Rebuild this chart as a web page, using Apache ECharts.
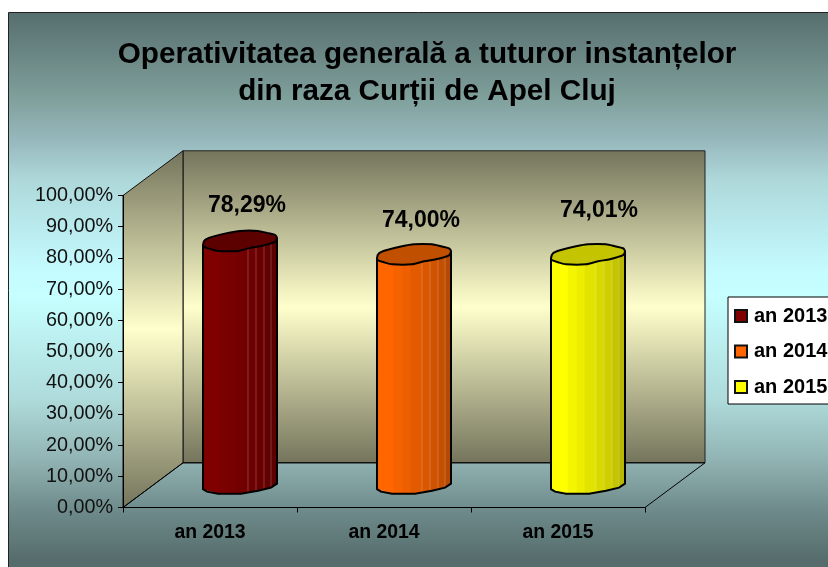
<!DOCTYPE html>
<html><head><meta charset="utf-8">
<script src="https://cdn.jsdelivr.net/npm/echarts@6/dist/echarts.min.js"></script>
<style>html,body{margin:0;padding:0;background:#fff;overflow:hidden}#c{width:828px;height:567px}</style>
</head><body><div id="c"></div>
<script>
const categories = ['an 2013', 'an 2014', 'an 2015'];
const values = [78.29, 74.00, 74.01];
const valueLabels = ['78,29%', '74,00%', '74,01%'];
const barColors = ['#800000', '#ff6600', '#ffff00'];
const capColors = ['#5c0000', '#c05000', '#c4c400'];
const titleText = 'Operativitatea generală a tuturor instanțelor\ndin raza Curții de Apel Cluj';

// 3D look (pixels), not data
const DEPTH_X = 60, DEPTH_Y = -44.7;
const labelNudge = [[7, -35], [7, -34], [11, -44]];
const capShape = [[-37,4],[-35,-1],[-28,-4],[-12,-8],[0,-10],[18,-10],[27,-8],[35,-6],[37,-3],[35,1],[22,5],[10,7],[-2,10],[-22,10],[-30,8],[-36,6]];
const bottomShape = [[-37,4],[-33,6.5],[-22,8.5],[1,8.5],[18,5.5],[31,2.5],[37,-1.5]];
const facets = [[-37,-20,1],[-20,-11,.96],[-11,-3,.93],[-3,8,.89],[8,16,.85],[16,24,.81],[24,31,.77],[31,37,.72]];

function shade(hex, k) {
  const n = parseInt(hex.slice(1), 16);
  return 'rgb(' + [n >> 16, (n >> 8) & 255, n & 255].map(v => Math.round(v * k)).join(',') + ')';
}
function bottomAt(x) {
  for (let i = 1; i < bottomShape.length; i++) {
    const a = bottomShape[i - 1], b = bottomShape[i];
    if (x <= b[0]) return a[1] + (b[1] - a[1]) * (x - a[0]) / (b[0] - a[0]);
  }
  return bottomShape[bottomShape.length - 1][1];
}
const wallFill = (a, b) => ({type: 'linear', x: 0, y: 0, x2: 0, y2: 1, colorStops: [
  {offset: 0, color: a}, {offset: .5, color: b}, {offset: 1, color: a}]});
const pageStops = [[12,'#566e6e'],[95,'#7e9e9a'],[140,'#97b8bc'],[180,'#aed8da'],[270,'#c4fbff'],[295,'#c6ffff'],[400,'#aedada'],[463,'#8fb0b0'],[510,'#6e8a8a'],[560,'#566c6c'],[612,'#566c6c']];

function renderWalls(params) {
  const c = params.coordSys, L = c.x, R = c.x + c.width, T = c.y, B = c.y + c.height;
  const ln = {stroke: '#000', lineWidth: 1};
  return {type: 'group', children: [
    {type: 'polygon', shape: {points: [[L + DEPTH_X, T + DEPTH_Y], [R + DEPTH_X, T + DEPTH_Y], [R + DEPTH_X, B + DEPTH_Y], [L + DEPTH_X, B + DEPTH_Y]]},
      style: {fill: wallFill('#74745c', '#ffffcc'), stroke: '#222', lineWidth: 1}},
    {type: 'polygon', shape: {points: [[L, T], [L + DEPTH_X, T + DEPTH_Y], [L + DEPTH_X, B + DEPTH_Y], [L, B]]},
      style: {fill: wallFill('#74745c', '#ffffcc'), stroke: '#111', lineWidth: 1}},
    {type: 'polyline', shape: {points: [[L, B], [L + DEPTH_X, B + DEPTH_Y], [R + DEPTH_X, B + DEPTH_Y], [R, B]]}, style: {fill: 'none', ...ln}}
  ]};
}
function renderBar(params, api) {
  const i = api.value(0), v = api.value(1);
  const top = api.coord([i, v]), base = api.coord([i, 0]);
  const cx = top[0] + DEPTH_X / 2, ty = top[1] + DEPTH_Y / 2, by = base[1] + DEPTH_Y / 2;
  const col = barColors[i], kids = [];
  facets.forEach(f => {
    kids.push({type: 'polygon', shape: {points: [[cx + f[0], ty], [cx + f[1], ty], [cx + f[1], by + bottomAt(f[1])], [cx + f[0], by + bottomAt(f[0])]]},
      style: {fill: shade(col, f[2]), stroke: shade(col, f[2]), lineWidth: .5}});
  });
  facets.slice(4).forEach(f => {
    kids.push({type: 'line', shape: {x1: cx + f[0], y1: ty, x2: cx + f[0], y2: by + bottomAt(f[0])},
      style: {stroke: 'rgba(255,255,255,.22)', lineWidth: 1}});
  });
  kids.push({type: 'polyline', shape: {points: [[cx - 37, ty + 4]].concat(bottomShape.map(p => [cx + p[0], by + p[1]]), [[cx + 37, ty - 3]])},
    style: {fill: 'none', stroke: '#000', lineWidth: 2}});
  kids.push({type: 'polygon', shape: {points: capShape.map(p => [cx + p[0], ty + p[1]]), smooth: .25},
    style: {fill: capColors[i], stroke: '#000', lineWidth: 2}});
  kids.push({type: 'text', style: {text: valueLabels[i], x: cx + labelNudge[i][0], y: ty + labelNudge[i][1],
    align: 'center', verticalAlign: 'middle', fill: '#000', font: 'bold 23px "Liberation Sans"'}});
  return {type: 'group', children: kids};
}

const chart = echarts.init(document.getElementById('c'), null, {renderer: 'canvas'});
chart.setOption({
  animation: false,
  textStyle: {fontFamily: '"Liberation Sans"'},
  graphic: [{type: 'rect', z: -1, shape: {x: 8.5, y: 12.5, width: 900, height: 600},
    style: {fill: {type: 'linear', x: 0, y: 0, x2: 0, y2: 1, colorStops: pageStops.map(s => ({offset: (s[0] - 12) / 600, color: s[1]}))},
      stroke: '#222', lineWidth: 1}}],
  title: {text: titleText, left: 422, top: 31, textAlign: 'center', textStyle: {fontSize: 29.7, fontWeight: 'bold', color: '#000', lineHeight: 37, fontFamily: '"Liberation Sans"'}},
  legend: {orient: 'vertical', left: 728, top: 297, padding: [9, 20, 7, 6], itemGap: 15.5, itemWidth: 12, itemHeight: 12, icon: 'rect',
    backgroundColor: '#fff', borderColor: '#000', borderWidth: 1, borderRadius: 0,
    selectedMode: false, itemStyle: {borderColor: '#111', borderWidth: 2},
    textStyle: {fontSize: 20, lineHeight: 20, fontWeight: 'bold', color: '#000', padding: [0, 0, 0, 2], fontFamily: '"Liberation Sans"'},
    data: categories},
  grid: {left: 123, right: 183, top: 195.5, bottom: 59.5},
  xAxis: {type: 'category', data: categories, z: 5, axisLine: {lineStyle: {color: '#000', width: 1}}, axisTick: {show: true, length: 5, lineStyle: {color: '#000'}},
    axisLabel: {fontSize: 19.4, fontWeight: 'bold', color: '#000', margin: 16, fontFamily: '"Liberation Sans"'}, splitLine: {show: false}},
  yAxis: {type: 'value', min: 0, max: 100, interval: 10, z: 5, axisLine: {show: true, lineStyle: {color: '#000', width: 1}}, axisTick: {show: true, length: 5, lineStyle: {color: '#000'}},
    axisLabel: {fontSize: 19.8, color: '#111', margin: 10, padding: [3, 0, 0, 0], fontFamily: '"Liberation Sans"', formatter: v => v.toFixed(2).replace('.', ',') + '%'}, splitLine: {show: false}},
  series: [{type: 'custom', name: 'walls', z: 1, silent: true, clip: false, renderItem: renderWalls, data: [[0, 0]], encode: {x: 0, y: 1}}].concat(
    categories.map((c, i) => ({type: 'custom', name: c, z: 3, clip: false, silent: true, itemStyle: {color: barColors[i]},
      renderItem: renderBar, data: [[i, values[i]]], encode: {x: 0, y: 1}})))
});
</script></body></html>
